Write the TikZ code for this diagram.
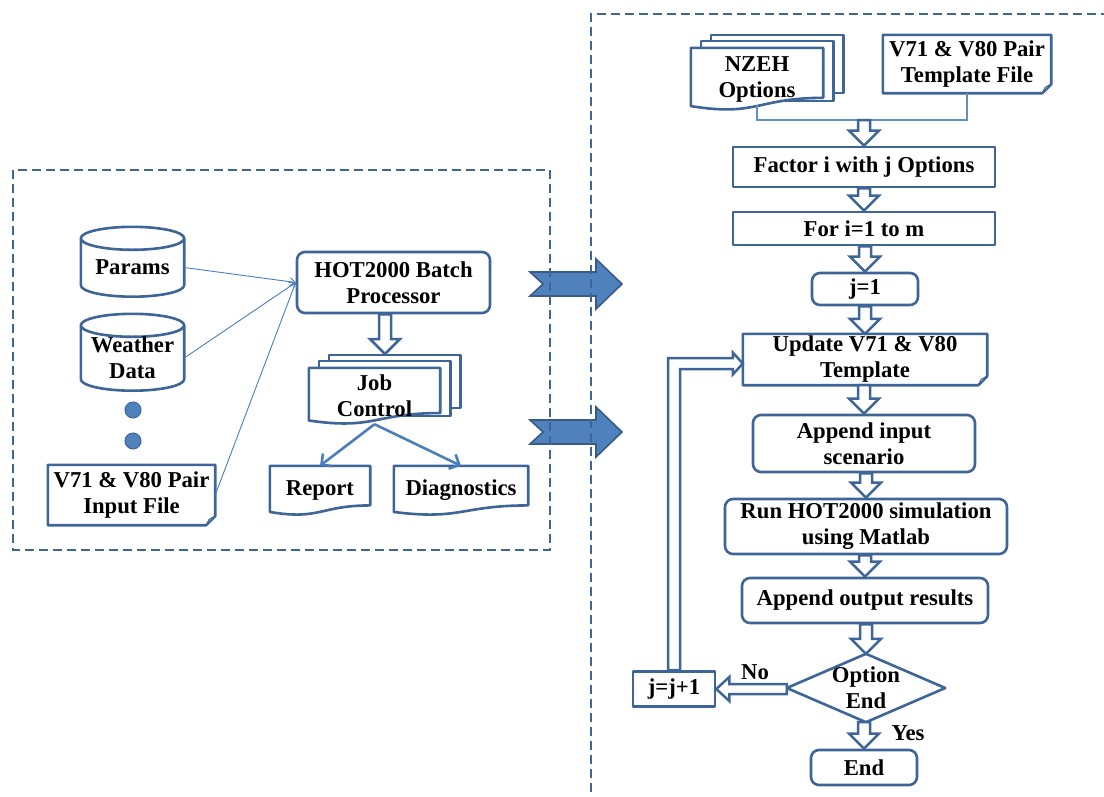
\documentclass[tikz,border=0pt]{standalone}
\usepackage{fontspec}
\setmainfont{Liberation Serif}
\usetikzlibrary{arrows.meta,calc,backgrounds}

\definecolor{edgeblue}{HTML}{3E6597}
\definecolor{fillblue}{HTML}{4F81BD}
\definecolor{linkblue}{HTML}{4A7EBB}

\tikzset{
  shapeline/.style={draw=edgeblue,line width=2.6pt,fill=white,line join=round},
  blockline/.style={draw=edgeblue,line width=2.5pt,fill=white,line join=miter},
  boxrect/.style={shapeline,inner sep=0pt,align=center},
  boxround/.style={shapeline,rounded corners=8pt,inner sep=0pt,align=center},
  doctext/.style={inner sep=0pt,align=center},
  dashframe/.style={draw=edgeblue,line width=2.5pt,dash pattern=on 9pt off 5pt},
  bigarrow/.style={fill=fillblue,draw=edgeblue!90!black,line width=1.6pt,line join=miter},
  thinlink/.style={draw=linkblue,line width=0.9pt,-{Straight Barb[length=5pt,width=8pt]}},
  joblink/.style={draw=linkblue,line width=2.6pt,-{Straight Barb[length=8pt,width=16pt]}},
  joinline/.style={draw=fillblue!90,line width=2pt},
  dotmark/.style={circle,fill=fillblue,draw=edgeblue,line width=1pt,minimum size=16pt,inner sep=0pt}
}

% document with a wavy bottom edge
\newcommand{\wavedoc}[1]{%
  \draw [shapeline] let \p1=(#1.north west), \p2=(#1.south east) in
    (\x1,\y1) -- (\x2,\y1) -- (\x2,{\y1-0.802*(\y1-\y2)})
    .. controls ({0.5*(\x1+\x2)},{\y1-0.802*(\y1-\y2)}) and ({0.5*(\x1+\x2)},{\y1-1.107*(\y1-\y2)})
    .. (\x1,{\y1-0.934*(\y1-\y2)}) -- cycle;}

% stack of documents
\newcommand{\multidoc}[1]{%
  \draw [shapeline] let \p1=(#1.north west), \p2=(#1.south east) in
    (\x1+20pt,\y1+13pt) rectangle (\x2+20pt,{\y1-0.802*(\y1-\y2)+5pt});
  \draw [shapeline] let \p1=(#1.north west), \p2=(#1.south east) in
    (\x1+10pt,\y1+7pt) rectangle (\x2+10pt,{\y1-0.802*(\y1-\y2)-3pt});
  \wavedoc{#1}}

% sheet with a folded corner
\newcommand{\folddoc}[1]{%
  \draw [shapeline] let \p1=(#1.north west), \p2=(#1.south east) in
    (\x1,\y1) -- (\x2,\y1) -- (\x2,\y2+9pt) -- (\x2-9pt,\y2) -- (\x1,\y2) -- cycle;
  \draw [shapeline,fill=edgeblue!45,line width=1pt] let \p2=(#1.south east) in
    (\x2,\y2+9pt) -- (\x2-9pt,\y2) -- (\x2-6pt,\y2+6pt) -- cycle;}

% database cylinder
\newcommand{\cyldb}[1]{%
  \draw [shapeline] let \p1=(#1.north west), \p2=(#1.south east) in
    (\x1,\y1+11.5pt) -- (\x1,\y2)
    arc [start angle=180,end angle=360,x radius={0.5*(\x2-\x1)},y radius=11.5pt]
    -- (\x2,\y1+11.5pt)
    ({0.5*(\x1+\x2)},\y1+11.5pt) ellipse [x radius={0.5*(\x2-\x1)},y radius=11.5pt];}

% decision diamond
\newcommand{\decshape}[1]{%
  \draw [shapeline] (#1.north) -- (#1.east) -- (#1.south) -- (#1.west) -- cycle;}

% hollow block arrows
\newcommand{\vblock}[2]{%
  \draw [blockline] let \p1=(#1), \p2=(#2) in
    (\x2-6pt,\y1) -- (\x2-6pt,\y2+15pt) -- (\x2-15pt,\y2+15pt) -- (\x2,\y2)
    -- (\x2+15pt,\y2+15pt) -- (\x2+6pt,\y2+15pt) -- (\x2+6pt,\y1) -- cycle;}
\newcommand{\hblock}[2]{%
  \draw [blockline] let \p1=(#1), \p2=(#2) in
    (\x1,\y2+5pt) -- (\x2+13pt,\y2+5pt) -- (\x2+13pt,\y2+12pt) -- (\x2,\y2)
    -- (\x2+13pt,\y2-12pt) -- (\x2+13pt,\y2-5pt) -- (\x1,\y2-5pt) -- cycle;}
\newcommand{\loopblock}[2]{%
  \draw [blockline] let \p1=(#1), \p2=(#2) in
    (\x1-6pt,\y1) -- (\x1-6pt,\y2+5.5pt) -- (\x2-10pt,\y2+5.5pt) -- (\x2-10pt,\y2+11pt)
    -- (\x2,\y2) -- (\x2-10pt,\y2-11pt) -- (\x2-10pt,\y2-5.5pt) -- (\x1+6pt,\y2-5.5pt)
    -- (\x1+6pt,\y1) -- cycle;}

\begin{document}
\begin{tikzpicture}[x=1pt,y=-1pt,font=\bfseries\fontsize{22.7}{26}\selectfont]

    \useasboundingbox (0,0) rectangle (1104,796);

    % Batch processing side
    \node [doctext,minimum width=103,minimum height=35] (params) at (132.5,267.5) {Params};
    \node [doctext,minimum width=103,minimum height=42] (weather) at (132.5,358) {Weather\\Data};
    \node [dotmark] (dot1) at (133,410) {};
    \node [dotmark] (dot2) at (133,441) {};
    \node [doctext,minimum width=167,minimum height=60] (inputfile) at (131.5,495) {V71 \& V80 Pair\\Input File};
    \node [boxround,minimum width=193,minimum height=61] (hot) at (393.5,282.5) {HOT2000 Batch\\Processor};
    \node [doctext,minimum width=131,minimum height=56] (job) at (374.5,396) {Job\\Control};
    \coordinate (jobtop) at (385,354);
    \node [doctext,minimum width=100,minimum height=49] (report) at (320,490.5) {Report};
    \node [doctext,minimum width=134,minimum height=49] (diag) at (461,490.5) {Diagnostics};

    % Option loop side
    \node [doctext,minimum width=132,minimum height=62] (nzeh) at (757,79) {NZEH\\Options};
    \node [doctext,minimum width=168,minimum height=58] (template) at (967,64) {V71 \& V80 Pair\\Template File};
    \coordinate (join) at (864,120);
    \node [boxrect,minimum width=262,minimum height=40] (factor) at (864,167) {Factor i with j Options};
    \node [boxrect,minimum width=262,minimum height=33] (fori) at (864,228.5) {For i=1 to m};
    \node [boxround,minimum width=106,minimum height=32] (jone) at (865,289) {j=1};
    \node [doctext,minimum width=244,minimum height=51] (update) at (865,359.5) {Update V71 \& V80\\Template};
    \node [boxround,minimum width=222,minimum height=57] (appin) at (864,443.5) {Append input\\scenario};
    \node [boxround,minimum width=282,minimum height=55] (runsim) at (866,526.5) {Run HOT2000 simulation\\using Matlab};
    \node [boxround,minimum width=246,minimum height=45] (appout) at (865,600.5) {Append output results};
    \node [doctext,minimum width=158,minimum height=68] (dec) at (866,688) {Option\\End};
    \node [boxround,minimum width=106,minimum height=35] (endnode) at (864,767.5) {End};
    \node [boxrect,minimum width=82,minimum height=35] (jinc) at (674,689) {j=j+1};
    \node [inner sep=0pt] (lblno) at (755,672) {No};
    \node [inner sep=0pt] (lblyes) at (908,733) {Yes};

    \begin{scope}[on background layer]
        % Big arrows between the panels
        \draw [bigarrow] (530,272) -- (596,272) -- (596,259) -- (622,284) -- (596,309)
            -- (596,296) -- (530,296) -- (543,284) -- cycle;
        \draw [bigarrow] (530,420) -- (596,420) -- (596,407) -- (622,432) -- (596,457)
            -- (596,444) -- (530,444) -- (543,432) -- cycle;

        % Dashed frames
        \draw [dashframe] (13,170) rectangle (550,550);
        \draw [dashframe] (1110,14) -- (591,14) -- (591,800);

        % Outlines
        \cyldb{params}
        \cyldb{weather}
        \folddoc{inputfile}
        \multidoc{job}
        \wavedoc{report}
        \wavedoc{diag}
        \multidoc{nzeh}
        \folddoc{template}
        \folddoc{update}
        \decshape{dec}
    \end{scope}

    % Inputs into the batch processor
    \draw [thinlink] (params.east) -- (hot.west);
    \draw [thinlink] (weather.east) -- (hot.west);
    \draw [thinlink] (inputfile.east) -- (hot.west);
    \vblock{hot.south}{jobtop}
    \draw [joblink] (job.south) -- (report.north);
    \draw [joblink] (job.south) -- (diag.north);

    % Flow of the option loop
    \draw [joinline] ([yshift=5pt]nzeh.south) |- (join) -| (template.south);
    \vblock{join}{factor.north}
    \vblock{factor.south}{fori.north}
    \vblock{fori.south}{jone.north}
    \vblock{jone.south}{update.north}
    \vblock{update.south}{appin.north}
    \vblock{appin.south}{runsim.north}
    \vblock{runsim.south}{appout.north}
    \vblock{appout.south}{dec.north}
    \vblock{dec.south}{endnode.north}
    \hblock{dec.west}{jinc.east}
    \loopblock{jinc.north}{[yshift=-4pt]update.west}

\end{tikzpicture}
\end{document}
